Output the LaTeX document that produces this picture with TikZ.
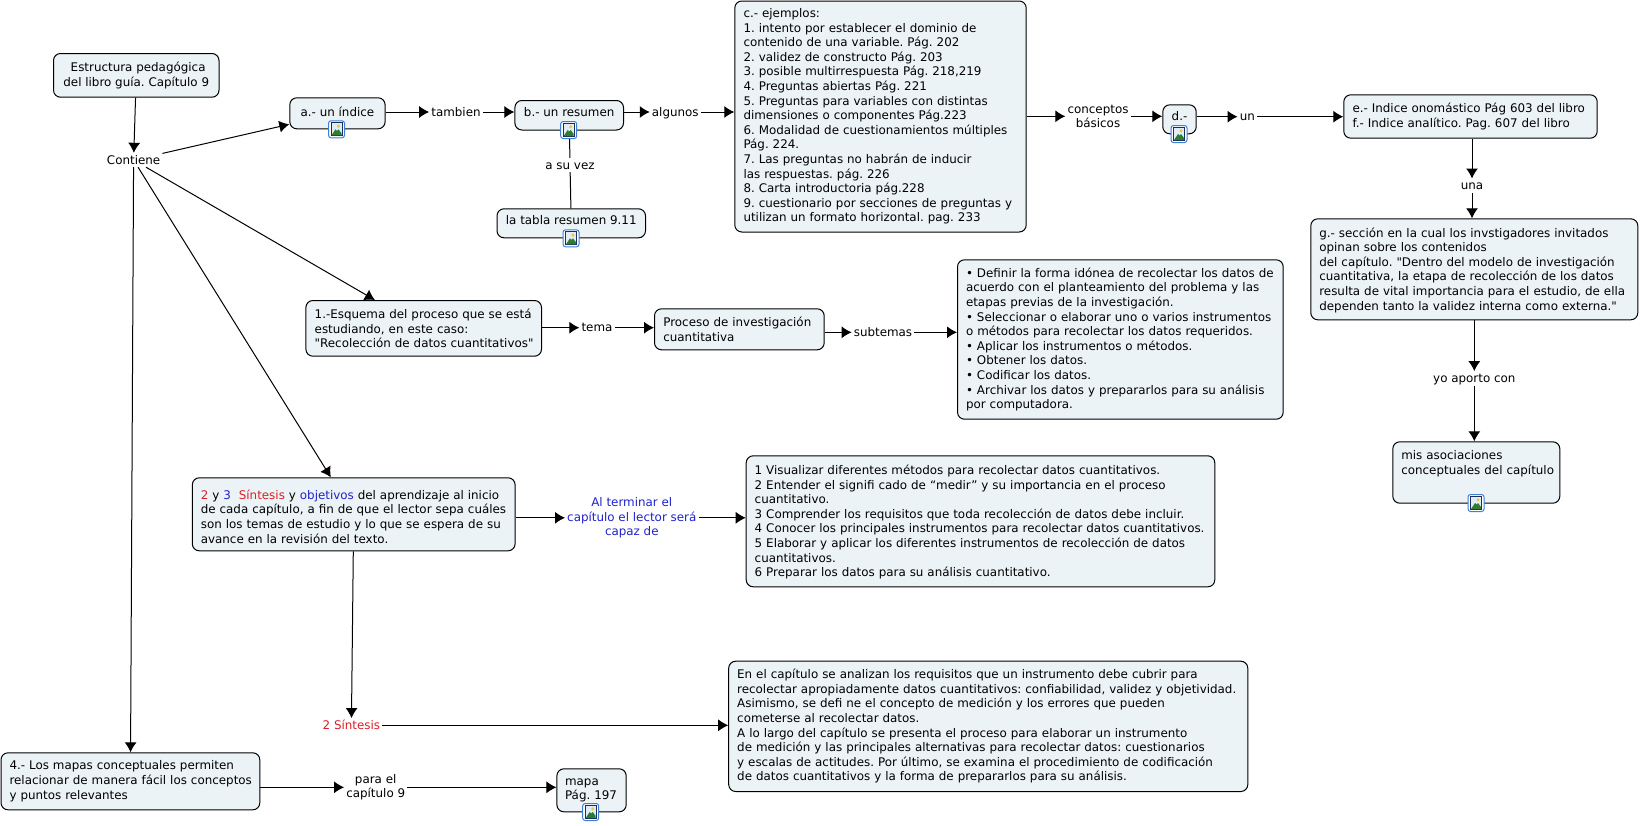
\documentclass[tikz,border=0pt]{standalone}
\usepackage{fontspec}
\setmainfont{DejaVu Sans}[Ligatures=TeXOff]
\usetikzlibrary{arrows.meta,calc}
\definecolor{boxfill}{HTML}{ECF3F6}
\definecolor{cred}{HTML}{D8202A}
\definecolor{cblue}{HTML}{2222CC}
\definecolor{iconblue}{HTML}{3F7FD6}
\definecolor{iconnavy}{HTML}{1B2F5E}
\definecolor{icongreen}{HTML}{2E7D32}
\definecolor{iconsun}{HTML}{E8C840}
\frenchspacing
\tikzset{
  x=1pt,y=-1pt,
  txt/.style={font=\fontsize{11.9}{14.6}\selectfont\frenchspacing},
  cbox/.style={txt,draw=black,line width=1pt,fill=boxfill,rounded corners=7pt,anchor=north west,inner xsep=8.5pt,inner ysep=3pt,align=left,execute at begin node={\hyphenpenalty=10000\exhyphenpenalty=10000\rightskip=-30pt plus 1fil\relax}},
  ccbox/.style={txt,draw=black,line width=1pt,fill=boxfill,rounded corners=7pt,anchor=north west,inner xsep=2pt,inner ysep=3pt,align=center},
  lbl/.style={txt,inner xsep=2pt,inner ysep=3pt,align=center},
  lblone/.style={txt,inner xsep=2pt,inner ysep=0pt,text height=11.2pt,text depth=2.8pt},
  arr/.style={line width=1pt,-{Latex[length=10pt,width=12pt]}},
  plain/.style={line width=1pt},
  imgicon/.pic={
    \draw[iconblue,line width=1pt,fill=white,rounded corners=2.5pt] (-8,-8.5) rectangle (8,8.5);
    \draw[iconnavy,line width=1pt,fill=white!85!iconblue] (-5.5,-6.5) rectangle (5.5,6.5);
    \fill[icongreen] (-5,6) -- (-1,0) -- (0.5,1.5) -- (2,0) -- (5,4) -- (5,6) -- cycle;
    \fill[iconsun] (2,-3.2) circle (1.7);
  }
}
\begin{document}
\begin{tikzpicture}
\useasboundingbox (0,0) rectangle (1640,825);
\fill[white] (0,0) rectangle (1640,825);

% boxes
\node[ccbox,minimum width=165.5pt,minimum height=43.7pt] (root) at (53,53) {\ Estructura pedagógica\\del libro guía. Capítulo 9};
\node[ccbox,minimum width=95.3pt,minimum height=31pt] (a) at (289.3,97.3) {a.- un índice\rule[-4pt]{0pt}{0pt}};
\node[ccbox,minimum width=108.6pt,minimum height=29.5pt] (b) at (514.4,100) {b.- un resumen\rule[-7pt]{0pt}{0pt}};
\node[ccbox,minimum width=148.5pt,minimum height=29pt] (tabla) at (496.5,208.3) {la tabla resumen 9.11\rule[-7pt]{0pt}{0pt}};
\node[cbox,minimum width=291.4pt,minimum height=231pt,text width=274pt] (c) at (734.3,0.5) {c.- ejemplos:\\
1. intento por establecer el dominio de\\
contenido de una variable. Pág. 202\\
2. validez de constructo Pág. 203\\
3. posible multirrespuesta Pág. 218,219\\
4. Preguntas abiertas Pág. 221\\
5. Preguntas para variables con distintas\\
dimensiones o componentes Pág.223\\
6. Modalidad de cuestionamientos múltiples\\
Pág. 224.\\
7. Las preguntas no habrán de inducir\\
las respuestas. pág. 226\\
8. Carta introductoria pág.228\\
9. cuestionario por secciones de preguntas y\\
utilizan un formato horizontal. pag. 233};
\node[ccbox,minimum width=33.4pt,minimum height=29pt] (d) at (1162.3,104.3) {d.-\rule[-7pt]{0pt}{0pt}};
\node[cbox,minimum width=253.4pt,minimum height=43.4pt,text width=236pt] (e) at (1343.3,94.3) {e.- Indice onomástico Pág 603 del libro\\f.- Indice analítico. Pag. 607 del libro};
\node[cbox,minimum width=327pt,minimum height=101pt,text width=310pt] (g) at (1310.3,218.3) {\rule{0pt}{11pt}g.- sección en la cual los invstigadores invitados\\
opinan sobre los contenidos\\
del capítulo. "Dentro del modelo de investigación\\
cuantitativa, la etapa de recolección de los datos\\
resulta de vital importancia para el estudio, de ella\\
dependen tanto la validez interna como externa."};
\node[cbox,minimum width=167pt,minimum height=61.4pt,text width=150pt] (mis) at (1392.3,441.3) {mis asociaciones\\conceptuales del capítulo\rule[-20pt]{0pt}{0pt}};
\node[cbox,minimum width=235.6pt,minimum height=55.7pt,text width=218pt] (uno) at (305.4,300) {1.-Esquema del proceso que se está\\estudiando, en este caso:\\"Recolección de datos cuantitativos"};
\node[cbox,minimum width=169.7pt,minimum height=41pt,text width=152pt] (proc) at (654,308.3) {Proceso de investigación\\cuantitativa};
\node[cbox,minimum width=325.7pt,minimum height=159.4pt,text width=308.7pt] (bul) at (957,259.3) {• Definir la forma idónea de recolectar los datos de\\
acuerdo con el planteamiento del problema y las\\
etapas previas de la investigación.\\
• Seleccionar o elaborar uno o varios instrumentos\\
o métodos para recolectar los datos requeridos.\\
• Aplicar los instrumentos o métodos.\\
• Obtener los datos.\\
• Codificar los datos.\\
• Archivar los datos y prepararlos para su análisis\\
por computadora.};
\node[cbox,minimum width=322.8pt,minimum height=73pt,text width=305.8pt] (sint) at (191.8,477.3) {\rule{0pt}{14pt}\textcolor{cred}{2} y \textcolor{cblue}{3}\ \ \textcolor{cred}{Síntesis} y \textcolor{cblue}{objetivos} del aprendizaje al inicio\\
de cada capítulo, a fin de que el lector sepa cuáles\\
son los temas de estudio y lo que se espera de su\\
avance en la revisión del texto.};
\node[cbox,minimum width=468.6pt,minimum height=131pt,text width=451.6pt] (obj) at (745.7,455.3) {\rule{0pt}{11pt}1 Visualizar diferentes métodos para recolectar datos cuantitativos.\\
2 Entender el signifi cado de “medir” y su importancia en el proceso\\
cuantitativo.\\
3 Comprender los requisitos que toda recolección de datos debe incluir.\\
4 Conocer los principales instrumentos para recolectar datos cuantitativos.\\
5 Elaborar y aplicar los diferentes instrumentos de recolección de datos\\
cuantitativos.\\
6 Preparar los datos para su análisis cuantitativo.};
\node[cbox,minimum width=519.1pt,minimum height=130.3pt,text width=502.1pt] (lng) at (728.2,660.7) {En el capítulo se analizan los requisitos que un instrumento debe cubrir para\\
recolectar apropiadamente datos cuantitativos: confiabilidad, validez y objetividad.\\
Asimismo, se defi ne el concepto de medición y los errores que pueden\\
cometerse al recolectar datos.\\
A lo largo del capítulo se presenta el proceso para elaborar un instrumento\\
de medición y las principales alternativas para recolectar datos: cuestionarios\\
y escalas de actitudes. Por último, se examina el procedimiento de codificación\\
de datos cuantitativos y la forma de prepararlos para su análisis.};
\node[cbox,minimum width=258.8pt,minimum height=57pt,text width=241.8pt] (cuatro) at (0.5,752.3) {4.- Los mapas conceptuales permiten\\relacionar de manera fácil los conceptos\\y puntos relevantes};
\node[cbox,minimum width=69.3pt,minimum height=43pt,text width=57pt,inner xsep=6pt] (mapa) at (556.4,768.3) {\hspace*{2pt}mapa\\\hspace*{2pt}Pág. 197};

% labels
\node[lblone] (cont) at (133.6,160) {Contiene};
\node[lblone] (tam) at (456,112) {tambien};
\node[lblone] (alg) at (675.3,112) {algunos};
\node[lblone] (asu) at (570,165) {a su vez};
\node[lbl] (cpt) at (1098,116.3) {conceptos\\básicos};
\node[lblone] (un) at (1247.3,116.7) {un};
\node[lblone] (una) at (1472,185.7) {una};
\node[lblone] (yo) at (1474.3,378.3) {yo aporto con};
\node[lblone] (tema) at (597,327.7) {tema};
\node[lblone] (sub) at (883,332.3) {subtemas};
\node[lbl,text=cblue] (alt) at (631.8,517.8) {Al terminar el\\capítulo el lector será\\capaz de};
\node[lblone,text=cred] (dos) at (351.4,725.3) {2 Síntesis};
\node[lbl] (para) at (375.7,787.3) {para el\\capítulo 9};

% connectors
\draw[arr] (root) -- (cont);
\draw[arr] (cont) -- (a);
\draw[arr] (cont) -- (uno);
\draw[arr] (cont) -- (sint);
\draw[arr] (cont) -- (cuatro);
\draw[arr] (a.east |- tam.west) -- (tam.west);
\draw[arr] (tam.east) -- (tam.east -| b.west);
\draw[arr] (b.east |- alg.west) -- (alg.west);
\draw[arr] (alg.east) -- (alg.east -| c.west);
\draw[plain] (b) -- (asu);
\draw[plain] (asu) -- (tabla);
\draw[arr] (c.east |- cpt.west) -- (cpt.west);
\draw[arr] (cpt.east) -- (cpt.east -| d.west);
\draw[arr] (d.east |- un.west) -- (un.west);
\draw[arr] (un.east) -- (un.east -| e.west);
\draw[arr] (e.south -| una.north) -- (una.north);
\draw[arr] (una.south) -- (una.south |- g.north);
\draw[arr] (g.south -| yo.north) -- (yo.north);
\draw[arr] (yo.south) -- (yo.south |- mis.north);
\draw[arr] (uno.east |- tema.west) -- (tema.west);
\draw[arr] (tema.east) -- (tema.east -| proc.west);
\draw[arr] (proc.east |- sub.west) -- (sub.west);
\draw[arr] (sub.east) -- (sub.east -| bul.west);
\draw[arr] (sint.east |- alt.west) -- (alt.west);
\draw[arr] (alt.east) -- (alt.east -| obj.west);
\draw[arr] (sint) -- (dos);
\draw[arr] (dos.east) -- (dos.east -| lng.west);
\draw[arr] (cuatro.east |- para.west) -- (para.west);
\draw[arr] (para.east) -- (para.east -| mapa.west);

% image icons
\pic at (336.5,129.3) {imgicon};
\pic at (568.7,130) {imgicon};
\pic at (571,238.3) {imgicon};
\pic at (1179,134) {imgicon};
\pic at (1476,503) {imgicon};
\pic at (590.7,812) {imgicon};
\end{tikzpicture}
\end{document}
